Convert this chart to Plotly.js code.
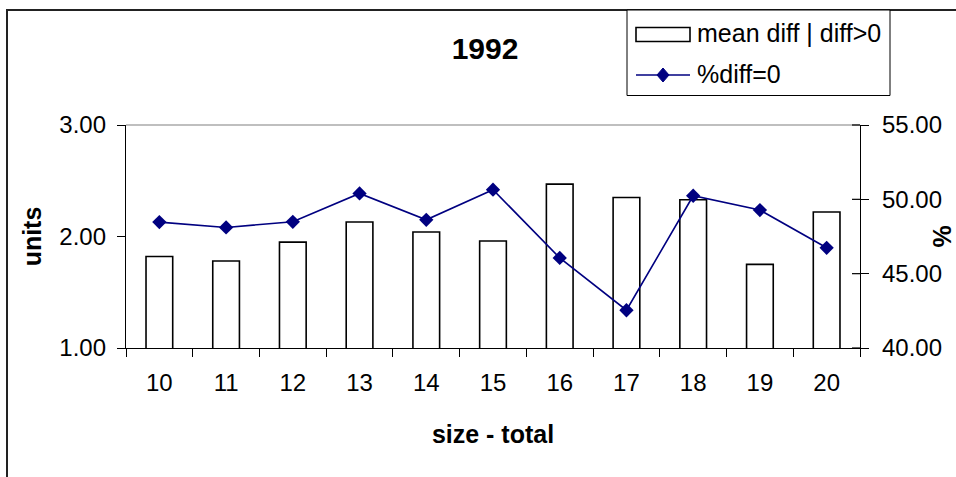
<!DOCTYPE html>
<html><head><meta charset="utf-8">
<script src="https://cdn.plot.ly/plotly-3.0.1.min.js"></script>
<style>html,body{margin:0;padding:0;background:#fff}</style>
</head><body><div id="chart" style="width:956px;height:477px"></div>
<script>
// ---- data ----
const sizes = ["10","11","12","13","14","15","16","17","18","19","20"];
const meanDiff = [1.82, 1.78, 1.95, 2.13, 2.04, 1.96, 2.47, 2.35, 2.33, 1.75, 2.22];
const pctDiffZero = [48.47, 48.11, 48.49, 50.40, 48.62, 50.65, 46.06, 42.54, 50.24, 49.28, 46.74];
const leftTicks = [1, 2, 3];
const rightTicks = [40, 45, 50, 55];
const chartTitle = "1992";
const barName = "mean diff | diff>0";
const lineName = "%diff=0";
const xTitle = "size - total";
const yTitle = "units";
const y2Title = "%";

// ---- layout geometry ----
const W = 956, H = 477, L = 126, R = 96, T = 125, B = 129;
const PW = W - L - R, PH = H - T - B;
const xp = x => (x - L) / PW;
const yp = y => (H - B - y) / PH;
const FONT = "Arial, 'Liberation Sans', sans-serif";
const NAVY = "#000080";
const Y2MIN = 40, Y2MAX = 55;

const traces = [
  {type: "bar", x: sizes, y: meanDiff, name: barName,
   marker: {color: "#ffffff", line: {color: "#000000", width: 1.6}}, yaxis: "y"},
  {type: "scatter", mode: "lines+markers", x: sizes, y: pctDiffZero, name: lineName, yaxis: "y2",
   line: {color: NAVY, width: 1.6}, marker: {symbol: "diamond", size: 11, color: NAVY}}
];

const dx = 6, dy = 7, cx = 663, cy = 75;
const diamond = `M ${xp(cx)},${yp(cy-dy)} L ${xp(cx+dx)},${yp(cy)} L ${xp(cx)},${yp(cy+dy)} L ${xp(cx-dx)},${yp(cy)} Z`;

// inner half of the right-axis cross ticks
const innerTicks = rightTicks.map(v => ({
  type: "line", xref: "paper", yref: "paper", x0: xp(852), x1: 1,
  y0: (v - Y2MIN) / (Y2MAX - Y2MIN), y1: (v - Y2MIN) / (Y2MAX - Y2MIN),
  line: {color: "#000", width: 1.2}
}));

const layout = {
  width: W, height: H,
  margin: {l: L, r: R, t: T, b: B, pad: 0},
  paper_bgcolor: "#ffffff", plot_bgcolor: "#ffffff",
  showlegend: false,
  bargap: 0.6,
  font: {family: FONT, size: 24, color: "#000000"},
  title: {text: chartTitle, x: 485 / W, xref: "container", xanchor: "center",
          y: 1 - 48 / H, yref: "container", yanchor: "middle",
          font: {family: FONT, size: 30, weight: "bold", color: "#000"}},
  xaxis: {type: "category", range: [-0.5, sizes.length - 0.5], tickson: "boundaries",
          ticks: "outside", ticklen: 8, tickcolor: "#000",
          showline: true, linecolor: "#000", linewidth: 1.2, showgrid: false, zeroline: false,
          tickfont: {family: FONT, size: 24}, ticklabelstandoff: 13,
          title: {text: xTitle, standoff: 30, font: {family: FONT, size: 25, weight: "bold"}}},
  yaxis: {range: [1, 3], tickvals: leftTicks, tickformat: ".2f", ticks: "outside", ticklen: 8,
          tickcolor: "#000", showline: true, linecolor: "#000", linewidth: 1.2, showgrid: false,
          zeroline: false, tickfont: {family: FONT, size: 24}, ticklabelstandoff: 6,
          title: {text: yTitle, standoff: 10, font: {family: FONT, size: 25, weight: "bold"}}},
  yaxis2: {range: [Y2MIN, Y2MAX], tickvals: rightTicks, tickformat: ".2f", overlaying: "y", side: "right",
           ticks: "outside", ticklen: 8, tickcolor: "#000", showline: true, linecolor: "#000",
           linewidth: 1.2, showgrid: false, zeroline: false, tickfont: {family: FONT, size: 24},
           ticklabelstandoff: 8,
           title: {text: y2Title, standoff: 8, font: {family: FONT, size: 25, weight: "bold"}}},
  shapes: [
    {type: "rect", xref: "paper", yref: "paper", x0: xp(7), x1: xp(990), y0: yp(520), y1: yp(10),
     line: {color: "#222", width: 2}, fillcolor: "rgba(0,0,0,0)", layer: "below"},
    {type: "line", xref: "paper", yref: "paper", x0: 0, x1: 1, y0: 1, y1: 1,
     line: {color: "#808080", width: 1.2}},
    ...innerTicks,
    {type: "rect", xref: "paper", yref: "paper", x0: xp(627), x1: xp(890), y0: yp(95.5), y1: yp(10),
     line: {color: "#000", width: 1}, fillcolor: "#ffffff"},
    {type: "rect", xref: "paper", yref: "paper", x0: xp(636), x1: xp(690), y0: yp(41.5), y1: yp(27.5),
     line: {color: "#000", width: 1.6}, fillcolor: "#ffffff"},
    {type: "line", xref: "paper", yref: "paper", x0: xp(636), x1: xp(690), y0: yp(75), y1: yp(75),
     line: {color: NAVY, width: 1.6}},
    {type: "path", xref: "paper", yref: "paper", path: diamond, line: {color: NAVY, width: 1}, fillcolor: NAVY}
  ],
  annotations: [
    {xref: "paper", yref: "paper", x: xp(695), y: yp(33), xanchor: "left", yanchor: "middle",
     text: barName, showarrow: false, font: {family: FONT, size: 25}},
    {xref: "paper", yref: "paper", x: xp(695), y: yp(74), xanchor: "left", yanchor: "middle",
     text: lineName, showarrow: false, font: {family: FONT, size: 25}}
  ]
};

Plotly.newPlot("chart", traces, layout, {staticPlot: true, displayModeBar: false});
</script></body></html>
